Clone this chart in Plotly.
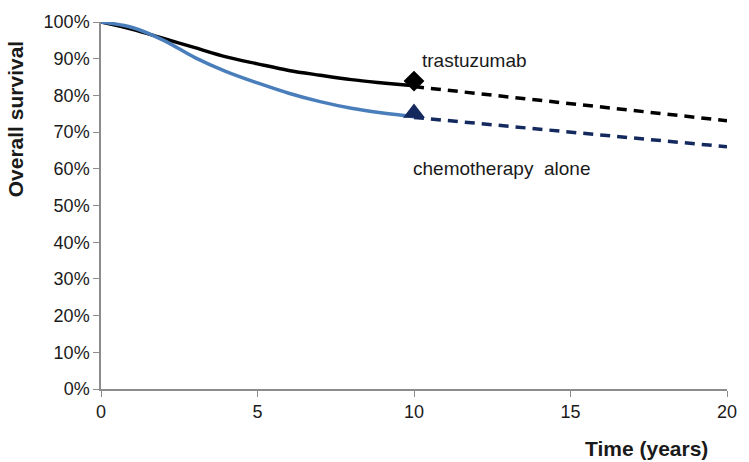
import plotly.graph_objects as go

# observed follow-up (years) and overall survival
years = [0, 1, 2, 3, 4, 5, 6, 7, 8, 9, 10]
trastuzumab = [1.000, 0.980, 0.955, 0.930, 0.905, 0.886, 0.868, 0.855, 0.843, 0.834, 0.826]
chemo = [1.000, 0.985, 0.950, 0.903, 0.865, 0.834, 0.806, 0.783, 0.765, 0.752, 0.742]

# projected survival (dashed extrapolation)
proj_years = [10, 20]
trastuzumab_proj = [0.824, 0.731]
chemo_proj = [0.740, 0.660]

# marker at 10 years
marker_year = [10]
trastuzumab_marker = [0.839]
chemo_marker = [0.752]

x_ticks = [0, 5, 10, 15, 20]
y_ticks = [0, 0.1, 0.2, 0.3, 0.4, 0.5, 0.6, 0.7, 0.8, 0.9, 1.0]

FONT = "Liberation Sans, Arial, sans-serif"
AXIS_GREY = "#8c8c8c"
TEXT = "#1a1a1a"

fig = go.Figure()

fig.add_trace(go.Scatter(
    x=proj_years, y=trastuzumab_proj, mode="lines",
    line=dict(color="black", width=3.5, dash="10px,7px"),
))
fig.add_trace(go.Scatter(
    x=proj_years, y=chemo_proj, mode="lines",
    line=dict(color="#14295e", width=3.5, dash="10px,7px"),
))
fig.add_trace(go.Scatter(
    x=years, y=trastuzumab, mode="lines",
    line=dict(color="black", width=3.5, shape="spline"),
))
fig.add_trace(go.Scatter(
    x=years, y=chemo, mode="lines",
    line=dict(color="#4a7ebb", width=3.5, shape="spline"),
))
fig.add_trace(go.Scatter(
    x=marker_year, y=trastuzumab_marker, mode="markers",
    marker=dict(symbol="diamond", size=16, color="black"),
))
fig.add_trace(go.Scatter(
    x=marker_year, y=chemo_marker, mode="markers",
    marker=dict(symbol="triangle-up", size=19, color="#14295e"),
))

fig.add_annotation(x=10.2, y=0.894, text="trastuzumab", showarrow=False,
                   xanchor="left", yanchor="middle",
                   font=dict(family=FONT, size=19, color=TEXT))
fig.add_annotation(x=9.9, y=0.60, text="chemotherapy  alone", showarrow=False,
                   xanchor="left", yanchor="middle",
                   font=dict(family=FONT, size=19, color=TEXT))

fig.add_annotation(xref="paper", yref="paper", x=0, y=0.735, xshift=-86,
                   text="<b>Overall survival</b>", textangle=-90, showarrow=False,
                   xanchor="center", yanchor="middle",
                   font=dict(family=FONT, size=21, color=TEXT))
fig.add_annotation(xref="paper", yref="paper", x=1, y=0, xshift=-17, yshift=-59,
                   text="<b>Time (years)</b>", showarrow=False,
                   xanchor="right", yanchor="middle",
                   font=dict(family=FONT, size=21, color=TEXT))

fig.update_xaxes(
    range=[0, 20], tickvals=x_ticks, showgrid=False, zeroline=False,
    showline=True, linecolor=AXIS_GREY, linewidth=1.5,
    ticks="outside", ticklen=6, tickcolor=AXIS_GREY,
    tickfont=dict(family=FONT, size=18, color=TEXT),
)
fig.update_yaxes(
    range=[0, 1], tickvals=y_ticks, tickformat=".0%", showgrid=False, zeroline=False,
    showline=True, linecolor=AXIS_GREY, linewidth=1.5,
    ticks="outside", ticklen=6, tickcolor=AXIS_GREY,
    tickfont=dict(family=FONT, size=18, color=TEXT),
)

fig.update_layout(
    width=749, height=462,
    margin=dict(l=101, r=17, t=12, b=73),
    plot_bgcolor="white", paper_bgcolor="white",
    showlegend=False,
)

# the page's default body margin would shift the figure; remove it
fig.write_html(
    "out.html",
    config={"displayModeBar": False},
    post_script="document.body.style.margin = '0';",
)
